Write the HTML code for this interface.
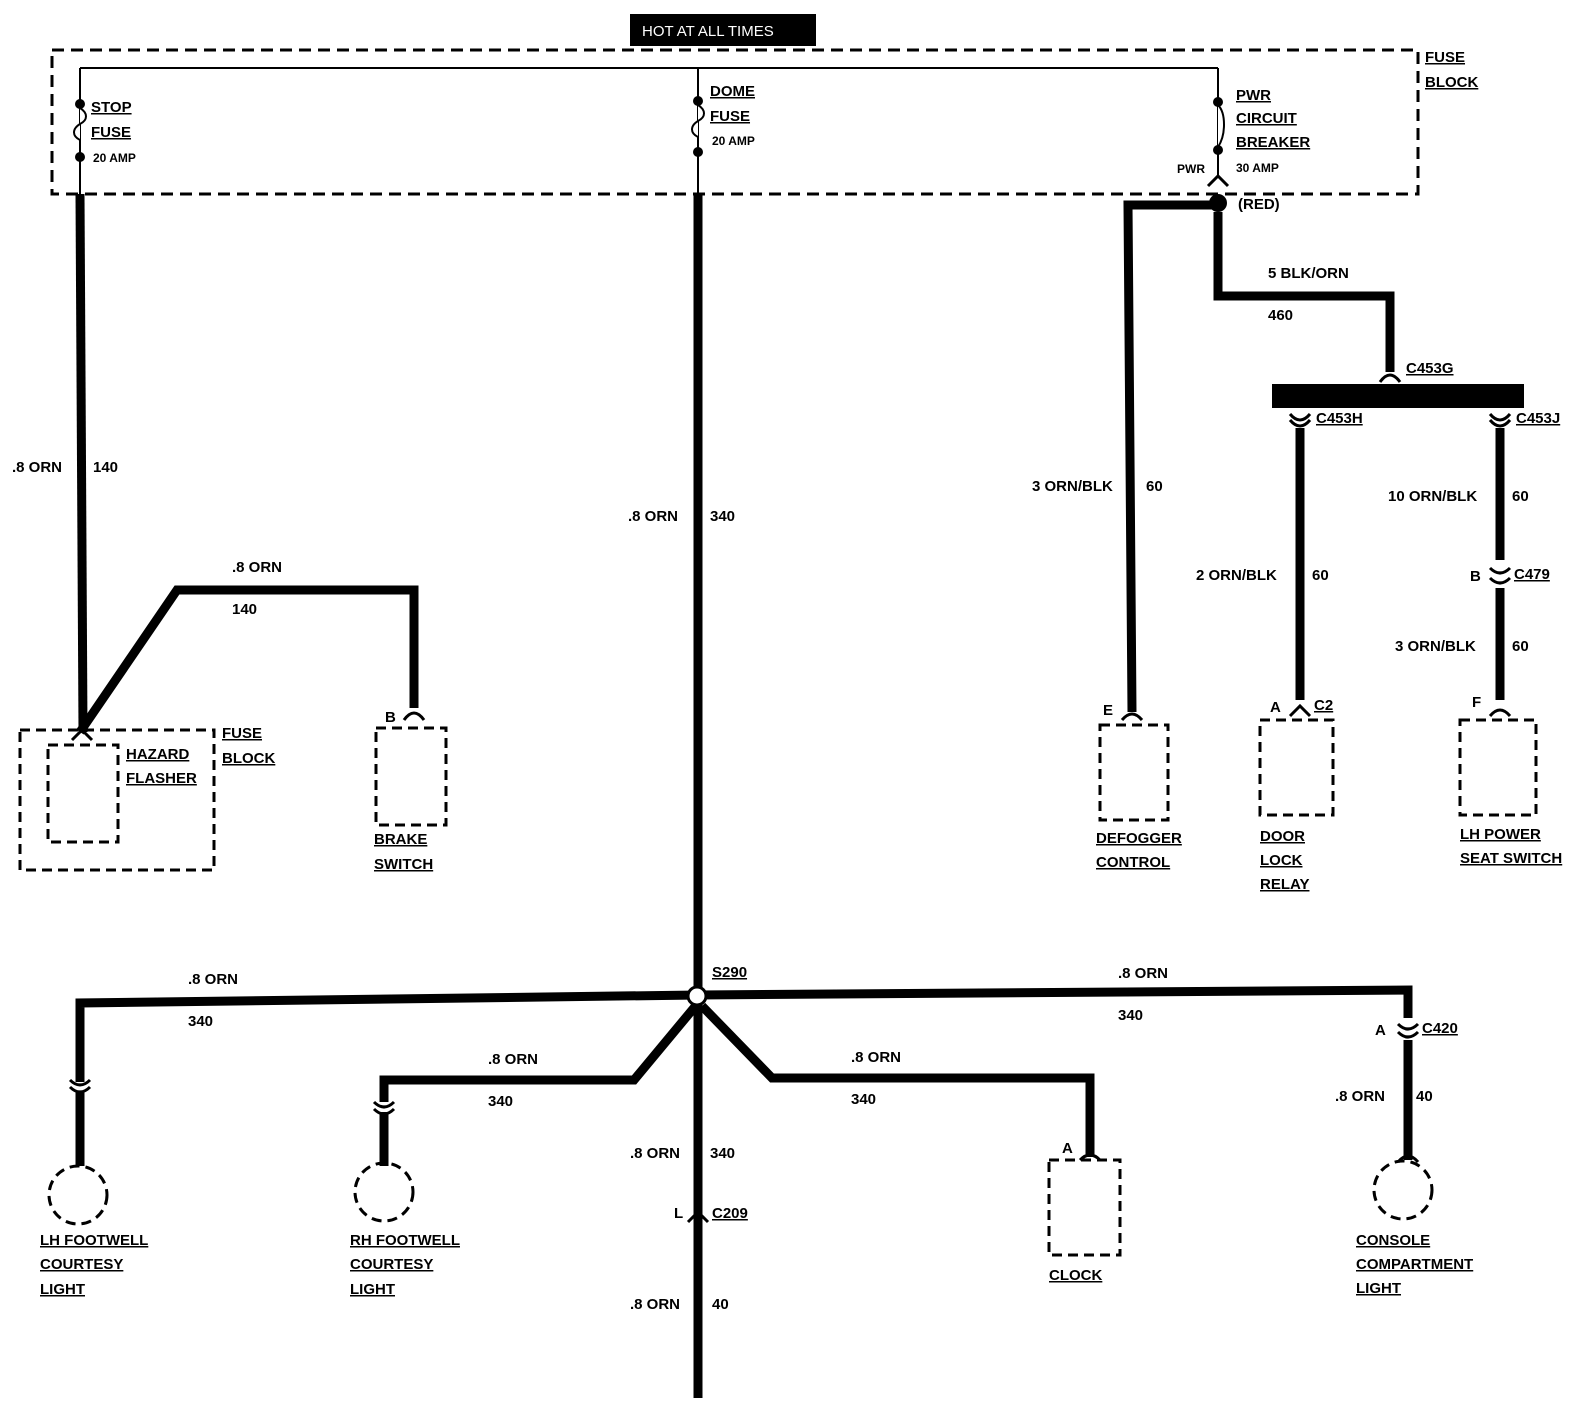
<!DOCTYPE html>
<html><head><meta charset="utf-8"><style>
html,body{margin:0;padding:0;background:#fff}
svg{display:block}
text{font-family:"Liberation Sans",sans-serif;font-weight:bold;font-size:15px;fill:#000}
.s{font-size:12px}
.u{text-decoration:underline}
</style></head><body>
<svg width="1570" height="1408" viewBox="0 0 1570 1408" xmlns="http://www.w3.org/2000/svg">
<g fill="none" stroke="#000">
<!-- fuse block -->
<rect x="52" y="50" width="1366" height="144" stroke-width="3" stroke-dasharray="12,7"/>
<path d="M80 68H1218M80 68V194M698 68V194M1218 68V178" stroke-width="2"/>
<path d="M80 108c8 5 8 12 0 16c-8 5-8 12 0 16" stroke-width="2" fill="#fff"/>
<path d="M698 105c8 5 8 12 0 16c-8 5-8 12 0 16" stroke-width="2" fill="#fff"/>
<path d="M1218 105c8 8 8 30 0 42" stroke-width="2" fill="#fff"/>
<!-- thick wires -->
<g stroke-width="9" stroke-linejoin="miter">
<path d="M80 194L83 732"/>
<path d="M80 732L177 590H414V708"/>
<path d="M698 194V1398"/>
<path d="M698 995L80 1003V1082"/>
<path d="M698 995L1408 990V1018"/>
<path d="M698 1003L634 1080H384V1102"/>
<path d="M702 1006L772 1078H1090V1157"/>
<path d="M1408 1040V1160"/>
<path d="M80 1092V1166"/>
<path d="M384 1112V1166"/>
<path d="M1218 205H1128L1132 712"/>
<path d="M1218 212V296H1390V372"/>
<path d="M1300 428V700"/>
<path d="M1500 428V560"/>
<path d="M1500 588V700"/>
</g>
<!-- connectors -->
<g stroke-width="3">
<path d="M1208 186L1218 176L1228 186"/>
<path d="M1380 382Q1390 368 1400 382"/>
<path d="M1290 414Q1300 426 1310 414M1290 420Q1300 432 1310 420"/>
<path d="M1490 414Q1500 426 1510 414M1490 420Q1500 432 1510 420"/>
<path d="M1490 568Q1500 578 1510 568M1490 578Q1500 588 1510 578"/>
<path d="M1290 716L1300 706L1310 716"/>
<path d="M1490 716Q1500 704 1510 716"/>
<path d="M1122 720Q1132 708 1142 720"/>
<path d="M404 720Q414 706 424 720"/>
<path d="M72 740L82 730L92 740"/>
<path d="M70 1080Q80 1090 90 1080M70 1087Q80 1097 90 1087"/>
<path d="M374 1102Q384 1112 394 1102M374 1109Q384 1119 394 1109"/>
<path d="M1398 1024Q1408 1034 1418 1024M1398 1032Q1408 1042 1418 1032"/>
<path d="M688 1222L698 1212L708 1222"/>
<path d="M1080 1160Q1090 1150 1100 1160"/>
<path d="M1398 1162Q1408 1150 1418 1162"/>
</g>
<!-- boxes -->
<g stroke-width="3" stroke-dasharray="10,6">
<rect x="20" y="730" width="194" height="140"/>
<rect x="48" y="745" width="70" height="97"/>
<rect x="376" y="728" width="70" height="97"/>
<rect x="1100" y="725" width="68" height="95"/>
<rect x="1260" y="720" width="73" height="95"/>
<rect x="1460" y="720" width="76" height="95"/>
<rect x="1049" y="1160" width="71" height="95"/>
<circle cx="78" cy="1195" r="29"/>
<circle cx="384" cy="1192" r="29"/>
<circle cx="1403" cy="1190" r="29"/>
</g>
</g>
<rect x="1272" y="384" width="252" height="24" fill="#000"/>
<g fill="#000">
<circle cx="80" cy="104" r="5"/><circle cx="80" cy="157" r="5"/>
<circle cx="698" cy="101" r="5"/><circle cx="698" cy="152" r="5"/>
<circle cx="1218" cy="102" r="5"/><circle cx="1218" cy="150" r="5"/>
<circle cx="1218" cy="203" r="9"/>
</g>
<circle cx="697" cy="996" r="9" fill="#fff" stroke="#000" stroke-width="3"/>
<rect x="630" y="14" width="186" height="32" fill="#000"/>
<text x="642" y="36" style="fill:#fff;font-weight:normal">HOT AT ALL TIMES</text>
<text x="1425" y="62" class="u">FUSE</text><text x="1425" y="87" class="u">BLOCK</text>
<text x="91" y="112" class="u">STOP</text><text x="91" y="137" class="u">FUSE</text><text x="93" y="162" class="s">20 AMP</text>
<text x="710" y="96" class="u">DOME</text><text x="710" y="121" class="u">FUSE</text><text x="712" y="145" class="s">20 AMP</text>
<text x="1236" y="100" class="u">PWR</text><text x="1236" y="123" class="u">CIRCUIT</text><text x="1236" y="147" class="u">BREAKER</text><text x="1236" y="172" class="s">30 AMP</text>
<text x="1177" y="173" class="s">PWR</text><text x="1238" y="209">(RED)</text>
<text x="12" y="472">.8 ORN</text><text x="93" y="472">140</text>
<text x="232" y="572">.8 ORN</text><text x="232" y="614">140</text>
<text x="628" y="521">.8 ORN</text><text x="710" y="521">340</text>
<text x="1032" y="491">3 ORN/BLK</text><text x="1146" y="491">60</text>
<text x="1268" y="278">5 BLK/ORN</text><text x="1268" y="320">460</text>
<text x="1406" y="373" class="u">C453G</text>
<text x="1316" y="423" class="u">C453H</text><text x="1516" y="423" class="u">C453J</text>
<text x="1196" y="580">2 ORN/BLK</text><text x="1312" y="580">60</text>
<text x="1388" y="501">10 ORN/BLK</text><text x="1512" y="501">60</text>
<text x="1470" y="581">B</text><text x="1514" y="579" class="u">C479</text>
<text x="1395" y="651">3 ORN/BLK</text><text x="1512" y="651">60</text>
<text x="1270" y="712">A</text><text x="1314" y="710" class="u">C2</text>
<text x="1472" y="707">F</text><text x="1103" y="715">E</text>
<text x="1096" y="843" class="u">DEFOGGER</text><text x="1096" y="867" class="u">CONTROL</text>
<text x="1260" y="841" class="u">DOOR</text><text x="1260" y="865" class="u">LOCK</text><text x="1260" y="889" class="u">RELAY</text>
<text x="1460" y="839" class="u">LH POWER</text><text x="1460" y="863" class="u">SEAT SWITCH</text>
<text x="126" y="759" class="u">HAZARD</text><text x="126" y="783" class="u">FLASHER</text>
<text x="222" y="738" class="u">FUSE</text><text x="222" y="763" class="u">BLOCK</text>
<text x="385" y="722">B</text><text x="374" y="844" class="u">BRAKE</text><text x="374" y="869" class="u">SWITCH</text>
<text x="712" y="977" class="u">S290</text>
<text x="188" y="984">.8 ORN</text><text x="188" y="1026">340</text>
<text x="1118" y="978">.8 ORN</text><text x="1118" y="1020">340</text>
<text x="488" y="1064">.8 ORN</text><text x="488" y="1106">340</text>
<text x="851" y="1062">.8 ORN</text><text x="851" y="1104">340</text>
<text x="1375" y="1035">A</text><text x="1422" y="1033" class="u">C420</text>
<text x="1335" y="1101">.8 ORN</text><text x="1416" y="1101">40</text>
<text x="630" y="1158">.8 ORN</text><text x="710" y="1158">340</text>
<text x="674" y="1218">L</text><text x="712" y="1218" class="u">C209</text>
<text x="630" y="1309">.8 ORN</text><text x="712" y="1309">40</text>
<text x="1062" y="1153">A</text><text x="1049" y="1280" class="u">CLOCK</text>
<text x="40" y="1245" class="u">LH FOOTWELL</text><text x="40" y="1269" class="u">COURTESY</text><text x="40" y="1294" class="u">LIGHT</text>
<text x="350" y="1245" class="u">RH FOOTWELL</text><text x="350" y="1269" class="u">COURTESY</text><text x="350" y="1294" class="u">LIGHT</text>
<text x="1356" y="1245" class="u">CONSOLE</text><text x="1356" y="1269" class="u">COMPARTMENT</text><text x="1356" y="1293" class="u">LIGHT</text>
</svg>
</body></html>
